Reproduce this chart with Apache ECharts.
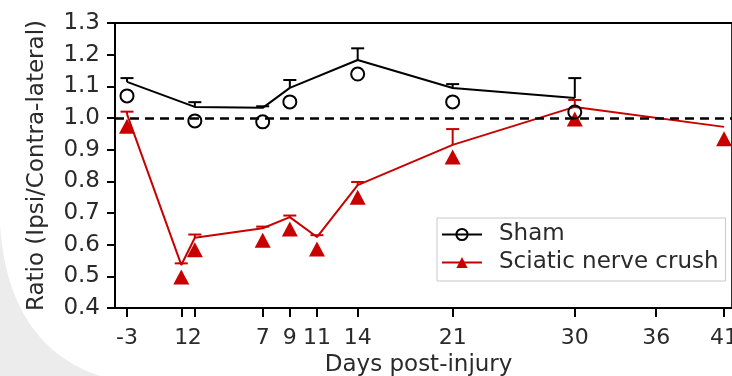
<!DOCTYPE html>
<html>
<head>
<meta charset="utf-8">
<style>html,body{margin:0;padding:0;background:#fff;}#main{width:732px;height:376px;}</style>
<script src="https://cdn.jsdelivr.net/npm/echarts@6/dist/echarts.min.js"></script>
</head>
<body>
<div id="main"></div>
<script>
var xTicks = [-3, 1, 2, 7, 9, 11, 14, 21, 30, 36, 41];
var shamDays = [-3, 2, 7, 9, 14, 21, 30];
var shamMean = [1.114, 1.035, 1.032, 1.095, 1.183, 1.095, 1.063];
var shamErr  = [0.012, 0.015, 0.005, 0.025, 0.037, 0.012, 0.063];
var crushDays = [-3, 1, 2, 7, 9, 11, 14, 21, 30, 41];
var crushMean = [1.012, 0.536, 0.622, 0.652, 0.687, 0.624, 0.788, 0.915, 1.035, 0.972];
var crushErr  = [0.008, 0.005, 0.01, 0.005, 0.005, 0.006, 0.01, 0.05, 0.022, 0];
var FONT = 'DejaVu Sans';
var TXT = '#2a2a2a';

function pairs(xs, ys) { return xs.map(function (x, i) { return [x, ys[i]]; }); }
function errData(xs, ys, es) { return xs.map(function (x, i) { return [x, ys[i], ys[i] + es[i]]; }); }
function errSeries(data, color, z) {
  return {
    type: 'custom', data: data, z: z, silent: true,
    encode: { x: 0, y: [1, 2] },
    renderItem: function (params, api) {
      var x = api.value(0), lo = api.value(1), hi = api.value(2);
      if (hi - lo <= 0) return null;
      var p0 = api.coord([x, lo]), p1 = api.coord([x, hi]);
      var w = 6.5;
      var st = { stroke: color, lineWidth: 2 };
      return { type: 'group', children: [
        { type: 'line', shape: { x1: p0[0], y1: p0[1], x2: p1[0], y2: p1[1] }, style: st },
        { type: 'line', shape: { x1: p1[0] - w, y1: p1[1], x2: p1[0] + w, y2: p1[1] }, style: st }
      ]};
    }
  };
}

// decorative grey corner (background of the photographed figure)
var cornerPts = [];
for (var k = 0; k <= 20; k++) {
  var t = k / 20;
  var px = 2 * (1 - t) * t * 8 + t * t * 100;
  var py = (1 - t) * (1 - t) * 225 + 2 * (1 - t) * t * 345 + t * t * 376;
  cornerPts.push([px, py]);
}
cornerPts.push([0, 376]);

var chart = echarts.init(document.getElementById('main'), null, { renderer: 'canvas' });
chart.setOption({
  animation: false,
  backgroundColor: '#fff',
  graphic: [{
    type: 'polygon', z: -10, silent: true,
    shape: { points: cornerPts },
    style: { fill: '#ececec' }
  }],
  grid: { left: 115, top: 23, width: 617.2, height: 285, outerBoundsMode: 'none', containLabel: false,
    show: true, borderColor: '#000', borderWidth: 2, backgroundColor: 'transparent' },
  legend: {
    orient: 'vertical', left: 437, top: 218,
    data: ['Sham', 'Sciatic nerve crush'],
    backgroundColor: '#fff', borderColor: '#c8c8c8', borderWidth: 1, borderRadius: 0,
    padding: [5, 7, 7, 4], itemWidth: 40, itemHeight: 14, itemGap: 5,
    textStyle: { fontFamily: FONT, fontSize: 23, color: TXT, lineHeight: 23, padding: [0, 0, 0, 12] }
  },
  xAxis: {
    type: 'value', min: -3.884, max: 41.6,
    name: 'Days post-injury', nameLocation: 'middle', nameGap: 41,
    nameTextStyle: { fontFamily: FONT, fontSize: 23, color: TXT, padding: [0, 10, 0, 0] },
    axisLine: { show: true, onZero: false, lineStyle: { color: '#000', width: 2 } },
    axisTick: { show: true, customValues: xTicks, length: 9, lineStyle: { color: '#000', width: 2 } },
    axisLabel: { customValues: xTicks, margin: 19, fontFamily: FONT, fontSize: 22, color: TXT },
    splitLine: { show: false }
  },
  yAxis: {
    type: 'value', min: 0.4, max: 1.3, interval: 0.1,
    name: 'Ratio (Ipsi/Contra-lateral)', nameLocation: 'middle', nameGap: 66, nameRotate: 90,
    nameTextStyle: { fontFamily: FONT, fontSize: 23, color: TXT },
    axisLine: { show: true, onZero: false, lineStyle: { color: '#000', width: 2 } },
    axisTick: { show: true, length: 8, lineStyle: { color: '#000', width: 2 } },
    axisLabel: { margin: 15, fontFamily: FONT, fontSize: 23, color: TXT,
      formatter: function (v) { return v.toFixed(1); } },
    splitLine: { show: false }
  },
  series: [
    {
      name: 'Sciatic nerve crush', type: 'line', z: 3,
      data: pairs(crushDays, crushMean),
      symbol: 'triangle', symbolSize: [16, 15], symbolOffset: [0, 12], showAllSymbol: true,
      lineStyle: { color: '#c80000', width: 2 },
      itemStyle: { color: '#c80000', borderWidth: 0 }
    },
    errSeries(errData(crushDays, crushMean, crushErr), '#c80000', 4),
    {
      name: 'Sham', type: 'line', z: 5,
      data: pairs(shamDays, shamMean),
      symbol: 'circle', symbolSize: 13, symbolOffset: [0, 14], showAllSymbol: true,
      lineStyle: { color: '#000', width: 2 },
      itemStyle: { color: 'rgba(255,255,255,0)', borderColor: '#000', borderWidth: 2 },
      markLine: {
        silent: true, symbol: 'none', label: { show: false },
        lineStyle: { color: '#000', type: [9, 6], width: 2.5 },
        data: [{ yAxis: 1 }]
      }
    },
    errSeries(errData(shamDays, shamMean, shamErr), '#000', 6)
  ]
});
</script>
</body>
</html>
